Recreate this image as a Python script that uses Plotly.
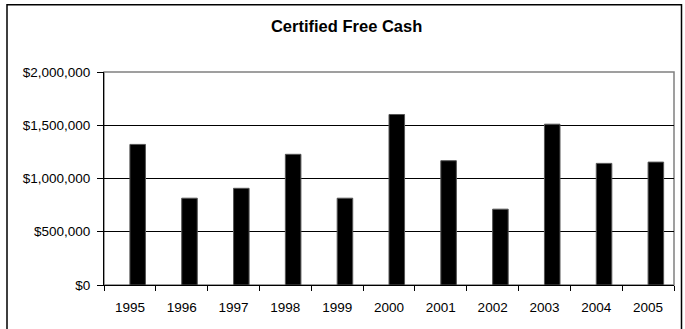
import plotly.graph_objects as go

# Certified free cash by fiscal year
years = ["1995", "1996", "1997", "1998", "1999", "2000",
         "2001", "2002", "2003", "2004", "2005"]
free_cash = [1320000, 815000, 908000, 1227000, 815000, 1601000,
             1167000, 712000, 1510000, 1142000, 1154000]

y_tick_values = [0, 500000, 1000000, 1500000, 2000000]
y_tick_labels = ["$0", "$500,000", "$1,000,000", "$1,500,000", "$2,000,000"]

FONT = "Liberation Sans, Arial, sans-serif"

fig = go.Figure()
fig.add_trace(go.Bar(
    x=years,
    y=free_cash,
    width=0.3,
    offset=0,
    marker=dict(color="#000000", line=dict(color="#555555", width=1)),
    showlegend=False,
))

fig.update_layout(
    width=685,
    height=329,
    margin=dict(l=104, r=11, t=72, b=44),
    paper_bgcolor="#ffffff",
    plot_bgcolor="#ffffff",
    font=dict(family=FONT, size=14, color="#000000"),
    title=dict(
        text="<b>Certified Free Cash</b>",
        x=0.506, xanchor="center",
        y=1 - 26.5 / 329, yanchor="middle",
        font=dict(family=FONT, size=16.5, color="#000000"),
    ),
    bargap=0.7,
    xaxis=dict(
        type="category",
        tickson="boundaries",
        ticks="outside",
        ticklen=5,
        tickcolor="#000000",
        showline=True,
        linecolor="#000000",
        linewidth=1,
        showgrid=False,
        ticklabelstandoff=10,
        tickfont=dict(family=FONT, size=13.5, color="#000000"),
    ),
    yaxis=dict(
        range=[0, 2000000],
        tickvals=y_tick_values,
        ticktext=y_tick_labels,
        ticks="outside",
        ticklen=6,
        tickcolor="#000000",
        showline=True,
        linecolor="#000000",
        linewidth=1,
        showgrid=True,
        gridcolor="#000000",
        gridwidth=1,
        zeroline=False,
        ticklabelstandoff=4,
        tickfont=dict(family=FONT, size=13.5, color="#000000"),
    ),
    shapes=[
        # grey plot-area frame (top and right edges)
        dict(type="rect", xref="paper", yref="paper",
             x0=0, x1=1, y0=0, y1=1,
             line=dict(color="#808080", width=1.5), layer="below"),
        # outer chart border
        dict(type="rect", xref="paper", yref="paper",
             x0=(7 - 104) / 570, x1=(681.5 - 104) / 570,
             y0=-0.3, y1=(285.3 - 5) / 213,
             line=dict(color="#000000", width=1.5)),
    ],
)

fig.write_html("out.html")
